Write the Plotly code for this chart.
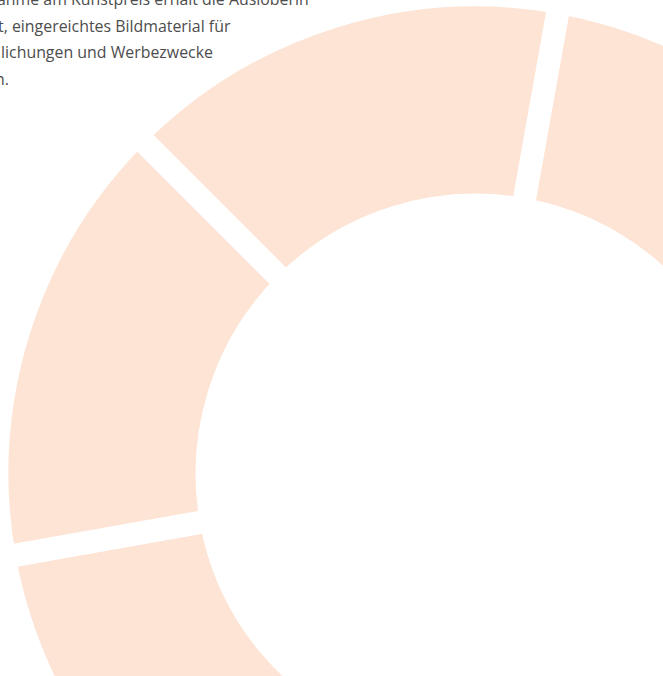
import plotly.graph_objects as go

# ---- data -------------------------------------------------------------
categories = ["Malerei", "Fotografie", "Skulptur", "Grafik", "Installation", "Mixed Media"]
shares = [17.6, 16.8, 18.2, 16.8, 15.3, 15.3]

# visible fragments of the (cropped) paragraph
text_lines = [
    "ahme am Kunstpreis erhält die Ausloberin",
    "t, eingereichtes Bildmaterial für",
    "lichungen und Werbezwecke",
    "n.",
]

# ---- layout helpers ---------------------------------------------------
W = H = 957            # figure is larger than the window; it is cropped by it
OFF_X, OFF_Y = 3, 5    # figure shifted up/left by these pixels
line_left_px = [-4.5, -3, -0.5, -6]       # window pixels
line_mid_px = [-1.5, 25.5, 52.5, 79.3]    # window pixels

fig = go.Figure(
    go.Pie(
        labels=categories,
        values=shares,
        sort=False,
        direction="clockwise",
        rotation=10.1,
        hole=0.561,
        marker=dict(colors=["#FDE4D5"] * len(categories),
                    line=dict(color="#FFFFFF", width=23)),
        textinfo="none",
        hoverinfo="skip",
        showlegend=False,
        domain=dict(x=[0, 1], y=[0, 1]),
    )
)

for txt, xl, ym in zip(text_lines, line_left_px, line_mid_px):
    fig.add_annotation(
        text=txt,
        xref="paper", yref="paper",
        x=(xl + OFF_X) / W, y=1 - (ym + OFF_Y) / H,
        xanchor="left", yanchor="middle",
        showarrow=False,
        borderpad=0,
        align="left",
        font=dict(family="Open Sans, Noto Sans, sans-serif", size=15.9, color="#4d4d4d"),
    )

fig.update_layout(
    width=W, height=H,
    margin=dict(l=0, r=0, t=0, b=0),
    paper_bgcolor="#FFFFFF",
    plot_bgcolor="#FFFFFF",
    showlegend=False,
)

fig.write_html(
    "out.html",
    post_script=(
        "document.body.style.margin='0';"
        "document.body.style.overflow='hidden';"
        "document.documentElement.style.overflow='hidden';"
        "var gd=document.getElementById('{plot_id}');"
        "gd.style.marginLeft='-%dpx';gd.style.marginTop='-%dpx';" % (OFF_X, OFF_Y)
    ),
)
